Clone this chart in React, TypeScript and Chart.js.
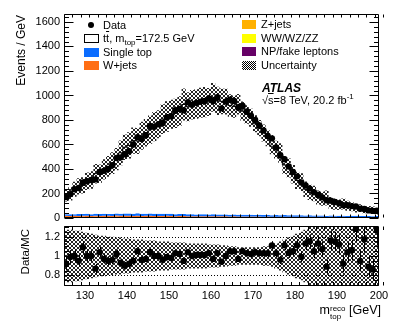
import React, { useEffect, useRef } from 'react';
import { Chart, registerables } from 'chart.js';

Chart.register(...registerables);

// ---------- data (events / GeV per 1 GeV bin, 125..200 GeV) ----------
const BIN_START = 125;
const BIN_WIDTH = 1;
const X_MIN = 125;
const X_MAX = 200;

const dataCounts = [
  170, 195, 235, 245, 290, 300, 310, 315, 375, 385,
  400, 430, 490, 495, 520, 545, 600, 660, 645, 675,
  750, 745, 765, 775, 820, 830, 880, 890, 880, 945,
  925, 940, 950, 955, 975, 955, 985, 895, 950, 965,
  955, 900, 915, 870, 835, 800, 755, 715, 670, 650,
  575, 510, 480, 420, 375, 340, 290, 265, 240, 210,
  190, 168, 145, 142, 130, 120, 105, 104, 97, 95,
  76, 74, 62, 58, 60,
];

const ratioValues = [
  0.92, 0.99, 1.0, 0.95, 1.09, 1.0, 1.0, 0.87, 1.04, 0.97,
  0.95, 0.96, 1.02, 0.93, 0.9, 0.92, 0.95, 1.05, 0.96, 0.97,
  1.04, 1.0, 1.0, 0.96, 0.99, 0.98, 1.03, 1.02, 0.95, 1.04,
  1.0, 1.01, 1.01, 1.01, 1.03, 0.97, 1.03, 0.94, 1.0, 1.05,
  1.05, 0.97, 1.05, 1.03, 1.02, 1.04, 1.03, 1.03, 1.03, 1.11,
  1.03, 0.96, 1.11, 1.03, 1.05, 1.11, 0.99, 1.13, 1.15, 1.05,
  1.13, 1.07, 0.89, 1.16, 1.15, 1.12, 0.92, 1.04, 1.06, 1.28,
  0.95, 1.17, 0.89, 0.86, 1.27,
];

const relUncertainty = [
  0.27, 0.27, 0.26, 0.26, 0.25, 0.24, 0.23, 0.22, 0.21, 0.21,
  0.2, 0.2, 0.19, 0.19, 0.18, 0.18, 0.17, 0.17, 0.17, 0.16,
  0.16, 0.16, 0.15, 0.15, 0.15, 0.14, 0.14, 0.14, 0.14, 0.13,
  0.13, 0.13, 0.13, 0.13, 0.12, 0.12, 0.12, 0.11, 0.11, 0.1,
  0.1, 0.09, 0.09, 0.09, 0.09, 0.09, 0.09, 0.1, 0.1, 0.11,
  0.13, 0.15, 0.17, 0.19, 0.21, 0.23, 0.25, 0.27, 0.3, 0.32,
  0.34, 0.36, 0.38, 0.4, 0.4, 0.4, 0.4, 0.4, 0.4, 0.4,
  0.4, 0.4, 0.4, 0.4, 0.4,
];

const singleTop = [
  14, 15, 14, 16, 15, 16, 15, 17, 16, 17,
  16, 17, 18, 17, 18, 19, 18, 20, 19, 18,
  19, 18, 19, 18, 17, 18, 17, 18, 17, 16,
  17, 16, 17, 16, 15, 16, 15, 16, 15, 14,
  15, 14, 15, 14, 14, 13, 14, 13, 13, 12,
  13, 12, 13, 12, 12, 11, 12, 11, 11, 12,
  11, 11, 10, 11, 10, 11, 10, 10, 11, 10,
  10, 9, 10, 9, 9,
];

const wJets = [
  9, 8, 9, 9, 8, 10, 9, 8, 9, 10,
  9, 9, 10, 9, 11, 10, 9, 10, 9, 10,
  10, 9, 8, 9, 10, 9, 8, 9, 8, 8,
  8, 7, 8, 8, 7, 8, 7, 7, 8, 7,
  7, 7, 6, 7, 7, 6, 7, 6, 6, 6,
  6, 5, 6, 6, 5, 6, 5, 5, 6, 5,
  5, 5, 4, 5, 5, 4, 5, 4, 4, 5,
  4, 4, 4, 3, 4,
];

const zJets = [
  3, 2, 3, 2, 3, 3, 2, 3, 2, 3,
  3, 2, 3, 3, 2, 3, 2, 3, 2, 2,
  2, 3, 2, 2, 3, 2, 2, 2, 3, 2,
  2, 2, 2, 2, 2, 2, 2, 2, 2, 2,
  2, 2, 1.5, 2, 2, 1.5, 2, 1.5, 2, 1.5,
  1.5, 1.5, 1.5, 1.5, 1.5, 1.5, 1.5, 1, 1.5, 1,
  1, 1, 1, 1, 1, 1, 1, 1, 1, 1,
  1, 1, 1, 1, 1,
];

const diboson = [
  0.5, 0.5, 0.5, 0.5, 0.5, 0.5, 0.5, 0.5, 0.5, 0.5,
  0.5, 0.5, 0.5, 0.5, 0.5, 0.5, 0.5, 0.5, 0.5, 0.5,
  0.4, 0.4, 0.4, 0.4, 0.4, 0.4, 0.4, 0.4, 0.4, 0.4,
  0.4, 0.4, 0.4, 0.4, 0.4, 0.4, 0.4, 0.4, 0.4, 0.4,
  0.3, 0.3, 0.3, 0.3, 0.3, 0.3, 0.3, 0.3, 0.3, 0.3,
  0.3, 0.3, 0.3, 0.3, 0.3, 0.3, 0.3, 0.3, 0.3, 0.3,
  0.2, 0.2, 0.2, 0.2, 0.2, 0.2, 0.2, 0.2, 0.2, 0.2,
  0.2, 0.2, 0.2, 0.2, 0.2,
];

const fakeLeptons = [
  5, 6, 5, 5, 6, 5, 5, 6, 5, 5,
  5, 5, 6, 5, 5, 5, 5, 5, 4, 5,
  5, 4, 5, 5, 4, 5, 4, 4, 5, 4,
  4, 4, 4, 4, 4, 4, 4, 4, 4, 3,
  4, 3, 4, 3, 3, 4, 3, 3, 3, 3,
  3, 3, 3, 3, 3, 3, 3, 3, 3, 3,
  3, 3, 2, 3, 3, 2, 3, 2, 3, 2,
  2, 3, 2, 2, 2,
];

// axis settings
const MAIN_Y_MIN = 0;
const MAIN_Y_MAX = 1665;
const MAIN_Y_STEP = 200;
const MAIN_Y_MINOR = 40;
const RATIO_Y_MIN = 0.69;
const RATIO_Y_MAX = 1.31;
const RATIO_Y_STEP = 0.2;
const RATIO_Y_MINOR = 0.05;
const X_STEP = 10;
const X_MINOR = 2;
const RATIO_REF_LINES = [0.8, 1.2];

// ---------- styling ----------
const FONT = '"Liberation Sans", Arial, Helvetica, sans-serif';
const COLORS = {
  singleTop: '#0a6cff',
  wJets: '#ff6e14',
  zJets: '#ffb000',
  diboson: '#ffff00',
  fake: '#660066',
};

// ---------- derived tables ----------
const nBins = dataCounts.length;
const binCenters = dataCounts.map((_, i) => BIN_START + (i + 0.5) * BIN_WIDTH);
const mcTotal = dataCounts.map((d, i) => d / ratioValues[i]);

function stepSeries(vals: number[]) {
  const pts = vals.map((v, i) => ({ x: BIN_START + i * BIN_WIDTH, y: v }));
  pts.push({ x: BIN_START + vals.length * BIN_WIDTH, y: vals[vals.length - 1] });
  return pts;
}

function cumulate(layers: number[][]) {
  const out: number[][] = [];
  let run = new Array(nBins).fill(0);
  for (const l of layers) {
    run = run.map((v, i) => v + l[i]);
    out.push(run);
  }
  return out;
}

function makeHatch(): CanvasPattern | string {
  const c = document.createElement('canvas');
  c.width = 4;
  c.height = 4;
  const g = c.getContext('2d');
  if (!g) return 'rgba(0,0,0,0.5)';
  g.fillStyle = 'rgba(0,0,0,0.85)';
  for (let i = 0; i < 4; i++) {
    g.fillRect(i, i, 1, 1);
    g.fillRect(3 - i, i, 1, 1);
  }
  return g.createPattern(c, 'repeat') || 'rgba(0,0,0,0.5)';
}

function isMultiple(v: number, step: number) {
  const r = v / step;
  return Math.abs(r - Math.round(r)) < 1e-6;
}

function framePlugin(cfg: any) {
  return {
    id: 'frameTicks',
    afterDraw(chart: any) {
      const { ctx, chartArea: a } = chart;
      const xs = chart.scales.x;
      const ys = chart.scales.y;
      const L = Math.round(a.left) + 0.5;
      const R = Math.round(a.right) - 0.5;
      const T = Math.round(a.top) + 0.5;
      const B = Math.round(a.bottom) - 0.5;
      ctx.save();
      ctx.strokeStyle = '#000';
      ctx.lineWidth = 1;
      ctx.beginPath();
      ctx.rect(L, T, R - L, B - T);
      const nx = Math.round((X_MAX - X_MIN) / X_MINOR);
      for (let k = 0; k <= nx; k++) {
        const v = X_MIN + k * X_MINOR;
        const len = isMultiple(v, X_STEP) ? cfg.xMajorLen : cfg.xMinorLen;
        const px = Math.round(xs.getPixelForValue(v)) + 0.5;
        ctx.moveTo(px, B);
        ctx.lineTo(px, B - len);
        ctx.moveTo(px, T);
        ctx.lineTo(px, T + len);
      }
      const k0 = Math.ceil(cfg.yMin / cfg.yMinor - 1e-9);
      for (let k = k0; ; k++) {
        const v = k * cfg.yMinor;
        if (v > cfg.yMax + 1e-9) break;
        const len = isMultiple(v, cfg.yMajor) ? cfg.yMajorLen : cfg.yMinorLen;
        const py = Math.round(ys.getPixelForValue(v)) + 0.5;
        ctx.moveTo(L, py);
        ctx.lineTo(L + len, py);
        ctx.moveTo(R, py);
        ctx.lineTo(R - len, py);
      }
      ctx.stroke();
      ctx.restore();
    },
  };
}

function errorBarPlugin(vals: number[], errs: number[]) {
  return {
    id: 'errorBars',
    afterDatasetsDraw(chart: any) {
      const { ctx, chartArea: a } = chart;
      const xs = chart.scales.x;
      const ys = chart.scales.y;
      ctx.save();
      ctx.beginPath();
      ctx.rect(a.left, a.top, a.right - a.left, a.bottom - a.top);
      ctx.clip();
      ctx.strokeStyle = '#000';
      ctx.lineWidth = 1;
      ctx.beginPath();
      for (let i = 0; i < vals.length; i++) {
        const px = Math.round(xs.getPixelForValue(binCenters[i])) + 0.5;
        ctx.moveTo(px, ys.getPixelForValue(vals[i] - errs[i]));
        ctx.lineTo(px, ys.getPixelForValue(vals[i] + errs[i]));
      }
      ctx.stroke();
      ctx.restore();
    },
  };
}

const refLinePlugin = {
  id: 'refLines',
  beforeDatasetsDraw(chart: any) {
    const { ctx, chartArea: a } = chart;
    const ys = chart.scales.y;
    ctx.save();
    ctx.strokeStyle = '#000';
    ctx.lineWidth = 1;
    ctx.setLineDash([1, 2]);
    ctx.beginPath();
    for (const v of RATIO_REF_LINES) {
      const py = Math.round(ys.getPixelForValue(v)) + 0.5;
      ctx.moveTo(a.left, py);
      ctx.lineTo(a.right, py);
    }
    ctx.stroke();
    ctx.restore();
  },
};

const tickFont = { family: FONT, size: 11 };

function Txt(props: { x: number; cy: number; size: number; children: any; style?: any }) {
  const lh = Math.round(props.size * 1.2);
  return (
    <div
      style={{
        position: 'absolute',
        left: props.x,
        top: props.cy - lh / 2,
        fontSize: props.size,
        lineHeight: `${lh}px`,
        whiteSpace: 'nowrap',
        ...props.style,
      }}
    >
      {props.children}
    </div>
  );
}

function Box(props: { x: number; cy: number; w: number; h: number; style: any }) {
  return (
    <div
      style={{
        position: 'absolute',
        left: props.x,
        top: props.cy - props.h / 2,
        width: props.w,
        height: props.h,
        boxSizing: 'border-box',
        ...props.style,
      }}
    />
  );
}

export default function App() {
  const mainRef = useRef<HTMLCanvasElement>(null);
  const ratioRef = useRef<HTMLCanvasElement>(null);

  useEffect(() => {
    const hatch = makeHatch();
    const [cFake, cDib, cZ, cW, cST] = cumulate([fakeLeptons, diboson, zJets, wJets, singleTop]);
    const bandLo = mcTotal.map((m, i) => m * (1 - relUncertainty[i]));
    const bandHi = mcTotal.map((m, i) => m * (1 + relUncertainty[i]));
    const statErr = dataCounts.map((d) => Math.sqrt(d));

    const layer = (vals: number[], color: string, fill: any, order: number, extra: any = {}) => ({
      type: 'line',
      data: stepSeries(vals),
      stepped: true,
      borderWidth: 0,
      borderColor: color,
      backgroundColor: color,
      fill,
      pointRadius: 0,
      order,
      ...extra,
    });

    const gridOff = { display: false, drawTicks: false, tickLength: 0 };

    const main = new Chart(mainRef.current as HTMLCanvasElement, {
      type: 'line',
      data: {
        datasets: [
          layer(cFake, COLORS.fake, 'origin', 20),
          layer(cDib, COLORS.diboson, '-1', 19),
          layer(cZ, COLORS.zJets, '-1', 18),
          layer(cW, COLORS.wJets, '-1', 17),
          layer(cST, COLORS.singleTop, '-1', 16),
          layer(mcTotal, '#000', '-1', 15, { backgroundColor: '#fff', borderWidth: 1 }),
          layer(bandLo, 'rgba(0,0,0,0)', false, 5),
          layer(bandHi, 'rgba(0,0,0,0)', '-1', 4, { backgroundColor: hatch }),
          {
            type: 'scatter',
            data: dataCounts.map((v, i) => ({ x: binCenters[i], y: v })),
            pointRadius: 3.2,
            pointBackgroundColor: '#000',
            pointBorderWidth: 0,
            showLine: false,
            order: 1,
          },
        ] as any,
      },
      options: {
        responsive: false,
        animation: false,
        events: [],
        layout: { padding: { left: 0, right: 20, top: 14, bottom: 12 } },
        plugins: { legend: { display: false }, tooltip: { enabled: false } },
        scales: {
          x: { type: 'linear', min: X_MIN, max: X_MAX, display: false },
          y: {
            type: 'linear',
            min: MAIN_Y_MIN,
            max: MAIN_Y_MAX,
            grid: gridOff,
            border: { display: false },
            ticks: {
              stepSize: MAIN_Y_STEP,
              includeBounds: false,
              font: tickFont,
              color: '#000',
              padding: 4,
              callback: (v: any) => String(v),
            },
            afterFit: (s: any) => {
              s.width = 64;
            },
          },
        },
      } as any,
      plugins: [
        errorBarPlugin(dataCounts, statErr),
        framePlugin({
          yMin: MAIN_Y_MIN,
          yMax: MAIN_Y_MAX,
          yMajor: MAIN_Y_STEP,
          yMinor: MAIN_Y_MINOR,
          yMajorLen: 9,
          yMinorLen: 4.5,
          xMajorLen: 6,
          xMinorLen: 3,
        }),
      ] as any,
    });

    const rLo = relUncertainty.map((u) => 1 - u);
    const rHi = relUncertainty.map((u) => 1 + u);
    const rErr = dataCounts.map((d, i) => Math.sqrt(d) / mcTotal[i]);

    const ratio = new Chart(ratioRef.current as HTMLCanvasElement, {
      type: 'line',
      data: {
        datasets: [
          layer(rLo, 'rgba(0,0,0,0)', false, 5),
          layer(rHi, 'rgba(0,0,0,0)', '-1', 4, { backgroundColor: hatch }),
          {
            type: 'scatter',
            data: ratioValues.map((v, i) => ({ x: binCenters[i], y: v })),
            pointRadius: 3.2,
            pointBackgroundColor: '#000',
            pointBorderWidth: 0,
            showLine: false,
            order: 1,
          },
        ] as any,
      },
      options: {
        responsive: false,
        animation: false,
        events: [],
        layout: { padding: { left: 0, right: 20, top: 12, bottom: 0 } },
        plugins: { legend: { display: false }, tooltip: { enabled: false } },
        scales: {
          x: {
            type: 'linear',
            min: X_MIN,
            max: X_MAX,
            grid: gridOff,
            border: { display: false },
            ticks: {
              stepSize: X_STEP,
              includeBounds: false,
              font: tickFont,
              color: '#000',
              padding: 3,
              maxRotation: 0,
              autoSkip: false,
            },
            afterFit: (s: any) => {
              s.height = 42;
            },
          },
          y: {
            type: 'linear',
            min: RATIO_Y_MIN,
            max: RATIO_Y_MAX,
            grid: gridOff,
            border: { display: false },
            ticks: {
              stepSize: RATIO_Y_STEP,
              includeBounds: false,
              font: tickFont,
              color: '#000',
              padding: 4,
              callback: (v: any) => String(Number(Number(v).toFixed(2))),
            },
            afterFit: (s: any) => {
              s.width = 64;
            },
          },
        },
      } as any,
      plugins: [
        refLinePlugin,
        errorBarPlugin(ratioValues, rErr),
        framePlugin({
          yMin: RATIO_Y_MIN,
          yMax: RATIO_Y_MAX,
          yMajor: RATIO_Y_STEP,
          yMinor: RATIO_Y_MINOR,
          yMajorLen: 9,
          yMinorLen: 4.5,
          xMajorLen: 7,
          xMinorLen: 3.5,
        }),
      ] as any,
    });

    return () => {
      main.destroy();
      ratio.destroy();
    };
  }, []);

  const sub = { fontSize: 8, verticalAlign: -3, lineHeight: 0 };
  const sup = { fontSize: 8, verticalAlign: 5, lineHeight: 0 };

  return (
    <div
      style={{
        position: 'absolute',
        left: 0,
        top: 0,
        width: 399,
        height: 328,
        background: '#fff',
        fontFamily: FONT,
        color: '#000',
        overflow: 'hidden',
      }}
    >
      <canvas
        ref={mainRef}
        width={399}
        height={230}
        style={{ position: 'absolute', left: 0, top: 0, width: 399, height: 230 }}
      />
      <canvas
        ref={ratioRef}
        width={399}
        height={114}
        style={{ position: 'absolute', left: 0, top: 214, width: 399, height: 114 }}
      />

      {/* y axis titles */}
      <div
        style={{
          position: 'absolute',
          left: 20.5 - 50,
          top: 15 + 50 - 7,
          width: 100,
          height: 14,
          lineHeight: '14px',
          fontSize: 12,
          textAlign: 'right',
          transform: 'rotate(-90deg)',
          whiteSpace: 'nowrap',
        }}
      >
        Events / GeV
      </div>
      <div
        style={{
          position: 'absolute',
          left: 25 - 35,
          top: 229 + 35 - 7,
          width: 70,
          height: 14,
          lineHeight: '14px',
          fontSize: 11.5,
          textAlign: 'right',
          transform: 'rotate(-90deg)',
          whiteSpace: 'nowrap',
        }}
      >
        Data/MC
      </div>

      {/* x axis title */}
      <div
        style={{
          position: 'absolute',
          right: 399 - 381,
          top: 302,
          fontSize: 12.5,
          lineHeight: '16px',
          whiteSpace: 'nowrap',
        }}
      >
        m
        <span
          style={{
            display: 'inline-block',
            fontSize: 8,
            lineHeight: '8px',
            verticalAlign: -5,
            textAlign: 'left',
          }}
        >
          <span style={{ display: 'block' }}>reco</span>
          <span style={{ display: 'block' }}>top</span>
        </span>
        {'\u00a0[GeV]'}
      </div>

      {/* legend left column */}
      <div
        style={{
          position: 'absolute',
          left: 88,
          top: 22,
          width: 6.4,
          height: 6.4,
          borderRadius: '50%',
          background: '#000',
        }}
      />
      <Txt x={103} cy={25} size={11}>Data</Txt>
      <Box x={84} cy={38} w={15} h={9} style={{ background: '#fff', border: '1px solid #000' }} />
      <Txt x={103} cy={38} size={11}>
        t<span style={{ textDecoration: 'overline' }}>t</span>, m<span style={sub}>top</span>=172.5 GeV
      </Txt>
      <Box x={84} cy={52} w={15} h={9} style={{ background: COLORS.singleTop }} />
      <Txt x={103} cy={52} size={11}>Single top</Txt>
      <Box x={84} cy={65} w={15} h={9} style={{ background: COLORS.wJets }} />
      <Txt x={103} cy={65} size={11}>W+jets</Txt>

      {/* legend right column */}
      <Box x={242} cy={24.5} w={14} h={9} style={{ background: COLORS.zJets }} />
      <Txt x={261} cy={24.5} size={11}>Z+jets</Txt>
      <Box x={242} cy={38} w={14} h={9} style={{ background: COLORS.diboson }} />
      <Txt x={261} cy={38} size={11}>WW/WZ/ZZ</Txt>
      <Box x={242} cy={51.5} w={14} h={9} style={{ background: COLORS.fake }} />
      <Txt x={261} cy={51.5} size={11}>NP/fake leptons</Txt>
      <Box
        x={242}
        cy={65}
        w={14}
        h={9}
        style={{
          background: 'repeating-conic-gradient(#000 0 25%, #fff 0 50%) 0 0 / 2px 2px',
        }}
      />
      <Txt x={261} cy={65} size={11}>Uncertainty</Txt>

      {/* ATLAS label */}
      <Txt x={262} cy={87.5} size={12} style={{ fontWeight: 'bold', fontStyle: 'italic' }}>
        ATLAS
      </Txt>
      <Txt x={262} cy={100} size={11}>
        √<span style={{ textDecoration: 'overline' }}>s</span>=8 TeV, 20.2 fb<span style={sup}>-1</span>
      </Txt>
    </div>
  );
}
